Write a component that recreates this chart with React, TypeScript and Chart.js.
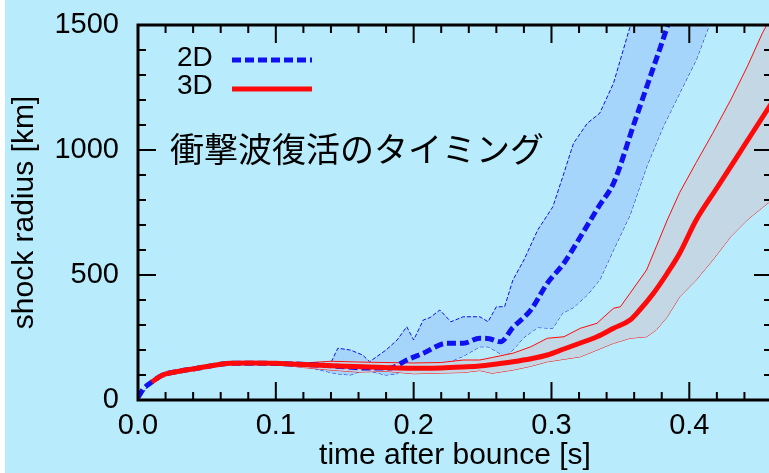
import React, { useEffect, useRef } from "react";
import { Chart, registerables } from "chart.js";

Chart.register(...registerables);

// ---- data (time after bounce [s], shock radius [km]) ----
const time2D = [0, 0.004, 0.009, 0.018, 0.03, 0.043, 0.06, 0.07, 0.1, 0.13, 0.15, 0.165, 0.183, 0.195, 0.207, 0.224, 0.236, 0.248, 0.255, 0.263, 0.272, 0.285, 0.297, 0.309, 0.321, 0.335, 0.345, 0.36, 0.37, 0.384, 0.39];
const radius2D = [10, 45, 68, 100, 115, 127, 143, 147, 146, 140, 133, 128, 128, 160, 187, 227, 227, 247, 245, 233, 290, 360, 467, 547, 653, 780, 867, 1107, 1267, 1493, 1600];

const time3D = [0.01, 0.018, 0.03, 0.043, 0.06, 0.067, 0.08, 0.1, 0.127, 0.15, 0.163, 0.188, 0.205, 0.22, 0.236, 0.248, 0.26, 0.272, 0.285, 0.297, 0.309, 0.321, 0.333, 0.345, 0.357, 0.364, 0.374, 0.384, 0.393, 0.405, 0.42, 0.44, 0.46];
const radius3D = [72, 100, 115, 127, 143, 147, 148, 147, 140, 135, 133, 128, 127, 128, 132, 136, 144, 153, 165, 180, 204, 228, 253, 287, 320, 360, 427, 507, 587, 720, 848, 1019, 1190];

const bandTime2D = [0, 0.01, 0.02, 0.04, 0.06, 0.08, 0.1, 0.12, 0.14, 0.145, 0.154, 0.163, 0.168, 0.18, 0.188, 0.195, 0.2, 0.207, 0.212, 0.219, 0.227, 0.236, 0.248, 0.254, 0.26, 0.266, 0.272, 0.28, 0.29, 0.301, 0.308, 0.316, 0.326, 0.335, 0.345, 0.357, 0.369, 0.381, 0.393, 0.405, 0.415, 0.43];
const bandHigh2D = [10, 72, 105, 128, 146, 150, 150, 148, 150, 207, 200, 180, 153, 200, 240, 293, 240, 320, 330, 360, 313, 333, 333, 313, 373, 373, 480, 560, 680, 773, 890, 1027, 1107, 1147, 1267, 1493, 1650, 1800, 1950, 2100, 2250, 2400];
const bandLow2D = [10, 68, 100, 122, 140, 144, 142, 136, 110, 105, 100, 118, 115, 100, 105, 133, 133, 133, 133, 145, 155, 175, 213, 213, 195, 173, 200, 250, 290, 287, 347, 370, 420, 480, 600, 740, 933, 1093, 1227, 1360, 1507, 1700];

const bandTime3D = [0.01, 0.02, 0.04, 0.06, 0.08, 0.1, 0.12, 0.14, 0.16, 0.18, 0.2, 0.22, 0.236, 0.248, 0.257, 0.272, 0.285, 0.297, 0.309, 0.321, 0.333, 0.345, 0.35, 0.357, 0.369, 0.376, 0.384, 0.393, 0.405, 0.417, 0.43, 0.442, 0.453, 0.46];
const bandHigh3D = [78, 106, 128, 146, 150, 150, 148, 155, 152, 150, 148, 150, 160, 160, 170, 187, 213, 247, 253, 287, 307, 367, 373, 427, 520, 613, 720, 830, 950, 1067, 1200, 1333, 1467, 1540];
const bandLow3D = [72, 98, 120, 140, 145, 143, 130, 120, 112, 115, 105, 108, 110, 118, 107, 120, 135, 153, 163, 173, 200, 227, 235, 247, 253, 280, 333, 413, 480, 560, 653, 720, 770, 800];

const xTicks = [0, 0.1, 0.2, 0.3, 0.4];
const yTicks = [0, 500, 1000, 1500];
const seriesLabels = ["2D", "3D"];
const annotationText = "衝撃波復活のタイミング";
const xTitle = "time after bounce [s]";
const yTitle = "shock radius [km]";

const BG = "#b8ecfc";
const BLUE = "#1010f0";
const RED = "#ff0a0a";
const BLUE_FILL = "#a6d5fb";
const RED_FILL = "#c3d8e4";
const FONT = '"Liberation Sans", Arial, Helvetica, sans-serif';

const pts = (xs: number[], ys: number[]) => xs.map((x, i) => ({ x, y: ys[i] }));

export default function App() {
  const ref = useRef<HTMLCanvasElement>(null);

  useEffect(() => {
    const bgPlugin = {
      id: "bg",
      beforeDraw(chart: any) {
        const { ctx, width, height } = chart;
        ctx.save();
        ctx.fillStyle = "#ffffff";
        ctx.fillRect(0, 0, width, height);
        ctx.fillStyle = BG;
        ctx.fillRect(5, 0, width - 5, height);
        ctx.restore();
      },
    };

    const framePlugin = {
      id: "frame",
      afterDatasetsDraw(chart: any) {
        const { ctx, chartArea: a, scales } = chart;
        const xs = scales.x;
        const ys = scales.y;
        ctx.save();
        ctx.strokeStyle = "#000";
        ctx.lineWidth = 2;
        ctx.setLineDash([]);
        ctx.beginPath();
        for (let k = 0; k <= 25; k++) {
          const v = k * 0.02;
          if (v > xs.max + 1e-9) break;
          const px = xs.getPixelForValue(v);
          const len = k % 5 === 0 ? 18 : 8;
          ctx.moveTo(px, a.bottom);
          ctx.lineTo(px, a.bottom - len);
          ctx.moveTo(px, a.top);
          ctx.lineTo(px, a.top + len);
        }
        for (let k = 0; k <= 15; k++) {
          const v = k * 100;
          const py = ys.getPixelForValue(v);
          const len = k % 5 === 0 ? 18 : 8;
          ctx.moveTo(a.left, py);
          ctx.lineTo(a.left + len, py);
          ctx.moveTo(a.right, py);
          ctx.lineTo(a.right - len, py);
        }
        ctx.stroke();
        ctx.lineWidth = 3;
        ctx.strokeRect(a.left, a.top, a.right - a.left, a.bottom - a.top);
        ctx.restore();
      },
    };

    const overlayPlugin = {
      id: "overlay",
      afterDraw(chart: any) {
        const { ctx } = chart;
        const ds = chart.data.datasets;
        ctx.save();
        ctx.fillStyle = "#000";
        ctx.textBaseline = "middle";
        ctx.textAlign = "left";
        ctx.font = `28px ${FONT}`;
        const rows = [
          { label: ds[1].label, color: ds[1].borderColor, dash: ds[1].borderDash || [], y: 58, ly: 60 },
          { label: ds[0].label, color: ds[0].borderColor, dash: ds[0].borderDash || [], y: 86, ly: 89 },
        ];
        for (const r of rows) {
          ctx.fillText(r.label, 177, r.y);
          ctx.strokeStyle = r.color;
          ctx.lineWidth = 5;
          ctx.setLineDash(r.dash);
          ctx.beginPath();
          ctx.moveTo(232, r.ly);
          ctx.lineTo(312, r.ly);
          ctx.stroke();
        }
        ctx.setLineDash([]);
        ctx.font = '34px "Noto Sans CJK JP", sans-serif';
        ctx.fillText(annotationText, 170, 149);
        ctx.restore();
      },
    };

    const chart = new Chart(ref.current!, {
      type: "line",
      data: {
        datasets: [
          {
            label: seriesLabels[1],
            data: pts(time3D, radius3D),
            borderColor: RED,
            borderWidth: 5,
            pointRadius: 0,
            fill: false,
            cubicInterpolationMode: "monotone",
            order: 0,
          },
          {
            label: seriesLabels[0],
            data: pts(time2D, radius2D),
            borderColor: BLUE,
            borderWidth: 5,
            borderDash: [9, 4],
            pointRadius: 0,
            fill: false,
            cubicInterpolationMode: "monotone",
            order: 1,
          },
          {
            label: "3D upper",
            data: pts(bandTime3D, bandHigh3D),
            borderColor: RED,
            borderWidth: 1,
            pointRadius: 0,
            backgroundColor: RED_FILL,
            fill: { target: 3, above: RED_FILL, below: RED_FILL },
            tension: 0,
            order: 2,
          },
          {
            label: "3D lower",
            data: pts(bandTime3D, bandLow3D),
            borderColor: RED,
            borderWidth: 1,
            pointRadius: 0,
            fill: false,
            tension: 0,
            order: 3,
          },
          {
            label: "2D upper",
            data: pts(bandTime2D, bandHigh2D),
            borderColor: BLUE,
            borderWidth: 1,
            borderDash: [4, 2],
            pointRadius: 0,
            backgroundColor: BLUE_FILL,
            fill: { target: 5, above: BLUE_FILL, below: BLUE_FILL },
            tension: 0,
            order: 4,
          },
          {
            label: "2D lower",
            data: pts(bandTime2D, bandLow2D),
            borderColor: BLUE,
            borderWidth: 1,
            borderDash: [4, 2],
            pointRadius: 0,
            fill: false,
            tension: 0,
            order: 5,
          },
        ],
      },
      options: {
        responsive: false,
        animation: false,
        events: [],
        layout: { padding: { left: 0, right: 8, top: 25, bottom: 0 } },
        plugins: {
          legend: { display: false },
          tooltip: { enabled: false },
        },
        scales: {
          x: {
            type: "linear",
            min: 0,
            max: 0.46,
            grid: { display: false, drawTicks: false },
            border: { display: false },
            afterFit: (s: any) => {
              s.height = 73;
              s.paddingLeft = 0;
              s.paddingRight = 0;
            },
            afterBuildTicks: (s: any) => {
              s.ticks = xTicks.map((v) => ({ value: v }));
            },
            ticks: {
              padding: 9,
              color: "#000",
              font: { family: FONT, size: 29 },
              maxRotation: 0,
              callback: (v: any) => Number(v).toFixed(1),
            },
            title: {
              display: true,
              text: xTitle,
              color: "#000",
              font: { family: FONT, size: 30 },
              padding: { top: 0, bottom: -1 },
            },
          },
          y: {
            type: "linear",
            min: 0,
            max: 1500,
            grid: { display: false, drawTicks: false },
            border: { display: false },
            afterFit: (s: any) => {
              s.width = 138;
              s.paddingTop = 0;
              s.paddingBottom = 0;
            },
            afterBuildTicks: (s: any) => {
              s.ticks = yTicks.map((v) => ({ value: v }));
            },
            ticks: {
              padding: 19,
              color: "#000",
              font: { family: FONT, size: 29 },
              callback: (v: any) => String(v),
            },
            title: {
              display: true,
              text: yTitle,
              color: "#000",
              font: { family: FONT, size: 30 },
              padding: { top: 7, bottom: 0 },
            },
          },
        },
      },
      plugins: [bgPlugin, framePlugin, overlayPlugin],
    } as any);
    return () => chart.destroy();
  }, []);

  return (
    <div
      style={{
        position: "fixed",
        left: 0,
        top: 0,
        width: 769,
        height: 473,
        overflow: "hidden",
        background: "#fff",
      }}
    >
      <canvas
        ref={ref}
        width={780}
        height={473}
        style={{ position: "absolute", left: 0, top: 0, width: 780, height: 473 }}
      />
    </div>
  );
}
